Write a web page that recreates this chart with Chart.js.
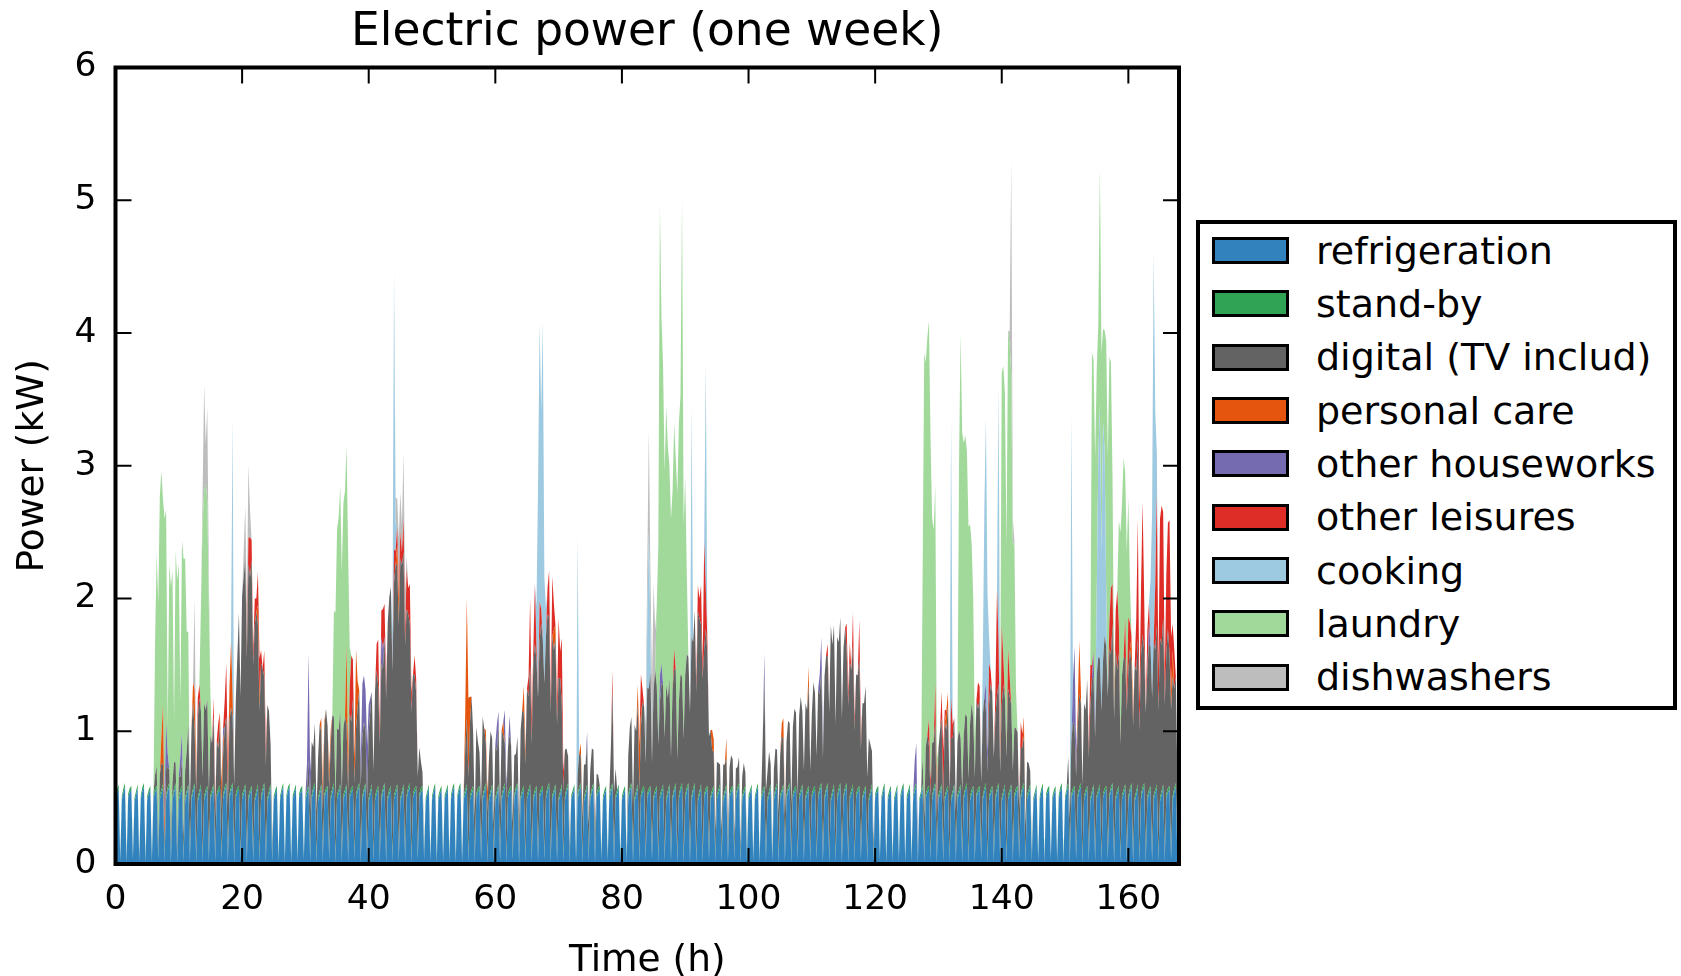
<!DOCTYPE html>
<html>
<head>
<meta charset="utf-8">
<title>Electric power (one week)</title>
<script src="https://cdn.jsdelivr.net/npm/chart.js@4.4.1/dist/chart.umd.min.js"></script>
<style>
  html, body { margin: 0; padding: 0; background: #fff; }
  #wrap { position: relative; width: 1681px; height: 976px; overflow: hidden; }
  #c { position: absolute; left: 0; top: 0; }
  #legend {
    position: absolute; left: 1196px; top: 220px;
    width: 473px; height: 482px;
    border: 4px solid #000; background: #fff;
  }
  #legend .item { height: 53.33px; display: flex; align-items: center; }
  #legend .sw { width: 71px; height: 21px; border: 3.5px solid #000; margin-left: 12px; margin-right: 27px; flex: none; }
  #legend .lab { font-family: 'DejaVu Sans', sans-serif; font-size: 38px; color: #000; white-space: nowrap; }
</style>
</head>
<body>
<div id="wrap">
  <canvas id="c" width="1681" height="976"></canvas>
  <div id="legend"></div>
</div>
<script>
// Sampling of the load curves (hours)
const STEP = 0.25;
const HOURS = 168;

const xTicks = [0, 20, 40, 60, 80, 100, 120, 140, 160];
const yTicks = [0, 1, 2, 3, 4, 5, 6];

const seriesNames = ['refrigeration', 'stand-by', 'digital (TV includ)', 'personal care',
  'other houseworks', 'other leisures', 'cooking', 'laundry', 'dishwashers'];

// Refrigeration: one value every 15 min, compressor cycle roughly hourly (kW)
const refrigeration = [
0.49,0.53,0.57,0.02,0.48,0.54,0.58,0.01,0.50,0.54,0.56,0.03,0.47,0.52,0.57,0.02,0.49,0.55,0.58,0.01,0.48,0.53,0.56,0.02,
0.50,0.54,0.56,0.03,0.49,0.53,0.57,0.02,0.49,0.55,0.58,0.01,0.48,0.54,0.58,0.01,0.48,0.53,0.56,0.02,0.47,0.52,0.57,0.02,
0.48,0.54,0.58,0.01,0.47,0.52,0.57,0.02,0.48,0.53,0.56,0.02,0.49,0.53,0.57,0.02,0.50,0.54,0.56,0.03,0.49,0.55,0.58,0.01,
0.49,0.55,0.58,0.01,0.50,0.54,0.56,0.03,0.49,0.53,0.57,0.02,0.48,0.53,0.56,0.02,0.47,0.52,0.57,0.02,0.48,0.54,0.58,0.01,
0.47,0.52,0.57,0.02,0.48,0.53,0.56,0.02,0.48,0.54,0.58,0.01,0.49,0.55,0.58,0.01,0.49,0.53,0.57,0.02,0.50,0.54,0.56,0.03,
0.48,0.53,0.56,0.02,0.49,0.55,0.58,0.01,0.47,0.52,0.57,0.02,0.50,0.54,0.56,0.03,0.48,0.54,0.58,0.01,0.49,0.53,0.57,0.02,
0.49,0.53,0.57,0.02,0.50,0.54,0.56,0.03,0.49,0.55,0.58,0.01,0.48,0.54,0.58,0.01,0.47,0.52,0.57,0.02,0.48,0.53,0.56,0.02,
0.48,0.54,0.58,0.01,0.48,0.53,0.56,0.02,0.49,0.53,0.57,0.02,0.47,0.52,0.57,0.02,0.49,0.55,0.58,0.01,0.50,0.54,0.56,0.03,
0.50,0.54,0.56,0.03,0.47,0.52,0.57,0.02,0.48,0.54,0.58,0.01,0.48,0.53,0.56,0.02,0.49,0.53,0.57,0.02,0.49,0.55,0.58,0.01,
0.49,0.55,0.58,0.01,0.49,0.53,0.57,0.02,0.48,0.53,0.56,0.02,0.50,0.54,0.56,0.03,0.48,0.54,0.58,0.01,0.47,0.52,0.57,0.02,
0.47,0.52,0.57,0.02,0.48,0.54,0.58,0.01,0.50,0.54,0.56,0.03,0.49,0.55,0.58,0.01,0.48,0.53,0.56,0.02,0.49,0.53,0.57,0.02,
0.48,0.53,0.56,0.02,0.50,0.54,0.56,0.03,0.49,0.55,0.58,0.01,0.49,0.53,0.57,0.02,0.47,0.52,0.57,0.02,0.48,0.54,0.58,0.01,
0.49,0.53,0.57,0.02,0.49,0.55,0.58,0.01,0.47,0.52,0.57,0.02,0.48,0.54,0.58,0.01,0.50,0.54,0.56,0.03,0.48,0.53,0.56,0.02,
0.48,0.54,0.58,0.01,0.49,0.53,0.57,0.02,0.48,0.53,0.56,0.02,0.49,0.55,0.58,0.01,0.47,0.52,0.57,0.02,0.50,0.54,0.56,0.03,
0.50,0.54,0.56,0.03,0.48,0.53,0.56,0.02,0.49,0.53,0.57,0.02,0.47,0.52,0.57,0.02,0.48,0.54,0.58,0.01,0.49,0.55,0.58,0.01,
0.49,0.55,0.58,0.01,0.48,0.54,0.58,0.01,0.47,0.52,0.57,0.02,0.50,0.54,0.56,0.03,0.48,0.53,0.56,0.02,0.49,0.53,0.57,0.02,
0.47,0.52,0.57,0.02,0.50,0.54,0.56,0.03,0.49,0.55,0.58,0.01,0.48,0.53,0.56,0.02,0.49,0.53,0.57,0.02,0.48,0.54,0.58,0.01,
0.48,0.53,0.56,0.02,0.47,0.52,0.57,0.02,0.48,0.54,0.58,0.01,0.49,0.53,0.57,0.02,0.49,0.55,0.58,0.01,0.50,0.54,0.56,0.03,
0.49,0.53,0.57,0.02,0.48,0.53,0.56,0.02,0.50,0.54,0.56,0.03,0.49,0.55,0.58,0.01,0.48,0.54,0.58,0.01,0.47,0.52,0.57,0.02,
0.48,0.54,0.58,0.01,0.49,0.55,0.58,0.01,0.49,0.53,0.57,0.02,0.50,0.54,0.56,0.03,0.48,0.53,0.56,0.02,0.47,0.52,0.57,0.02,
0.50,0.54,0.56,0.03,0.48,0.54,0.58,0.01,0.48,0.53,0.56,0.02,0.47,0.52,0.57,0.02,0.49,0.55,0.58,0.01,0.49,0.53,0.57,0.02,
0.49,0.55,0.58,0.01,0.47,0.52,0.57,0.02,0.50,0.54,0.56,0.03,0.48,0.54,0.58,0.01,0.49,0.53,0.57,0.02,0.48,0.53,0.56,0.02,
0.47,0.52,0.57,0.02,0.49,0.53,0.57,0.02,0.49,0.55,0.58,0.01,0.48,0.53,0.56,0.02,0.50,0.54,0.56,0.03,0.48,0.54,0.58,0.01,
0.48,0.53,0.56,0.02,0.48,0.54,0.58,0.01,0.47,0.52,0.57,0.02,0.49,0.53,0.57,0.02,0.50,0.54,0.56,0.03,0.49,0.55,0.58,0.01,
0.49,0.53,0.57,0.02,0.47,0.52,0.57,0.02,0.48,0.54,0.58,0.01,0.50,0.54,0.56,0.03,0.48,0.53,0.56,0.02,0.49,0.55,0.58,0.01,
0.48,0.54,0.58,0.01,0.50,0.54,0.56,0.03,0.49,0.55,0.58,0.01,0.48,0.53,0.56,0.02,0.47,0.52,0.57,0.02,0.49,0.53,0.57,0.02,
0.50,0.54,0.56,0.03,0.49,0.55,0.58,0.01,0.48,0.53,0.56,0.02,0.49,0.53,0.57,0.02,0.48,0.54,0.58,0.01,0.47,0.52,0.57,0.02,
0.49,0.55,0.58,0.01,0.48,0.53,0.56,0.02,0.49,0.53,0.57,0.02,0.47,0.52,0.57,0.02,0.50,0.54,0.56,0.03,0.48,0.54,0.58,0.01,
0.49
];

// Stand-by: [from hour, to hour, kW]
const standbyRuns = [[0, 168, 0.03]];

// Other uses: [start hour, consecutive 15-min values in kW]; zero outside the listed spans
const digitalSegs = [
  [6, [0,0.1,0.15,0.1, 0.15,0.2,0.15,0.1, 0.2,0.15,0.1,0.15, 0.1,0.2,0.15,0.1, 0.15,0.1,0.2,0.15, 0.2,0.3,0.45,0.4,
       0.5,0.65,0.4,0.5, 0.6,0.7,0.55,0.6, 0.7,0.6,0.65,0.5, 0.45,0.35,0.5,0.3, 0.4,0.3,0.45,0.35, 0.3,0.45,0.5,0.4,
       0.55,0.6,0.5,0.55, 0.7,1.0,1.3,1.2, 1.5,1.6,1.7,1.5, 1.75,1.6,1.7,1.45, 1.3,1.35,1.2,1.1, 1.0,0.9,0.8,0.7,
       0.7,0.6,0.3,0.1]],
  [30.5, [0.2,0.35, 0.4,0.3,0.45,0.35, 0.3,0.5,0.4,0.35, 0.5,0.6,0.45,0.5, 0.4,0.55,0.5,0.45, 0.5,0.45,0.55,0.5,
       0.5,0.55,0.45,0.5, 0.6,0.5,0.65,0.55, 0.5,0.6,0.7,0.55, 0.45,0.5,0.4,0.45, 0.5,0.6,0.7,0.65, 0.8,0.9,0.75,0.85,
       1.0,0.9,1.1,1.2, 1.3,1.45,1.5,1.4, 1.6,1.7,1.65,1.75, 1.8,1.7,1.75,1.6, 1.4,1.3,1.2,1.1, 0.9,0.85,0.7,0.6,
       0.35,0.2,0.1,0.05]],
  [55.25, [0.3,0.5,0.6, 0.55,0.7,0.4,0.3, 0.5,0.35,0.25,0.4, 0.6,0.45,0.3,0.35, 0.3,0.45,0.35,0.25, 0.4,0.3,0.45,0.35,
       0.5,0.4,0.3,0.45, 0.35,0.4,0.3,0.25, 0.3,0.25,0.35,0.2, 0.5,0.6,0.55,0.7, 0.8,0.7,0.9,0.85, 1.0,1.1,0.95,1.2,
       1.15,1.25,1.1,1.3, 1.2,1.3,1.25,1.1, 1.2,1.05,1.1,1.0, 0.9,0.85,0.6,0.5, 0.35,0.3,0.2,0.1]],
  [73, [0.15,0.25,0.2,0.3, 0.25,0.2,0.3,0.25, 0.2,0.3,0.25,0.2, 0.15,0.1]],
  [78.25, [0.3,0.7,0.5,0.2]],
  [81, [0.3,0.45,0.5,0.4, 0.55,0.45,0.6,0.5, 0.5,0.65,0.6,0.7, 0.8,0.75,0.85,0.7, 0.8,0.9,0.75,0.85, 0.7,0.8,0.75,0.9,
       0.85,0.7,0.8,0.75, 0.8,0.9,0.85,0.75, 0.7,0.85,0.8,0.9, 0.9,1.0,0.95,1.1, 1.2,1.1,1.3,1.25, 1.4,1.3,1.2,1.35,
       1.1,1.2,1.0,0.9, 0.5,0.3,0.25,0.2, 0.25,0.2,0.15,0.2, 0.25,0.2,0.2,0.15, 0.2,0.25,0.2,0.15, 0.2,0.15,0.2,0.1,
       0.15,0.2,0.1,0.05]],
  [102.25, [0.4,0.8,0.5,0.2,0.3,0.15]],
  [104, [0.2,0.3,0.25,0.35, 0.3,0.4,0.35,0.3, 0.4,0.5,0.45,0.4, 0.5,0.6,0.55,0.45, 0.6,0.7,0.55,0.65, 0.7,0.6,0.75,0.65,
       0.6,0.8,0.7,0.75, 0.8,0.7,0.85,0.75, 0.9,1.0,0.95,1.1, 1.3,1.1,1.2,1.0, 1.2,1.1,1.25,1.05, 1.1,1.2,1.0,1.15,
       1.0,0.9,1.05,0.95, 0.9,0.85,0.95,0.8, 0.7,0.65,0.75,0.6, 0.45,0.35,0.25,0.1]],
  [127.5, [0.2,0.3, 0.35,0.4,0.3,0.45, 0.4,0.35,0.45,0.3, 0.35,0.45,0.5,0.4, 0.55,0.45,0.6,0.5, 0.45,0.4,0.5,0.35,
       0.4,0.45,0.35,0.5, 0.45,0.55,0.5,0.6, 0.55,0.65,0.5,0.6, 0.7,0.6,0.65,0.55, 0.6,0.7,0.55,0.65, 0.7,0.8,0.7,0.75,
       0.6,0.7,0.75,0.65, 0.7,0.8,0.65,0.75, 0.8,0.7,0.6,0.65, 0.5,0.45,0.4,0.35, 0.35,0.3,0.35,0.25, 0.25,0.2,0.1,0.05]],
  [150.5, [0.2,0.3, 0.4,0.5,0.45,0.6, 0.5,0.7,0.6,0.55, 0.7,0.6,0.8,0.75, 0.7,0.85,0.8,0.9, 0.9,1.0,0.95,1.1,
       1.0,1.15,1.05,1.2, 1.1,1.0,1.2,1.05, 1.1,0.9,1.0,0.85, 0.9,1.0,0.95,1.1, 0.95,1.05,0.9,1.0, 1.0,0.9,1.1,0.95,
       1.05,1.15,1.0,1.1, 0.95,1.1,1.05,1.2, 1.15,1.05,1.2,1.1, 1.2,1.1,1.25,1.15, 1.05,1.2,1.0,1.1, 0.9,0.75,0.8,0.6,
       0.6]]
];

const personalCareSegs = [
  [7.25, [0.2,0.45,0.15]], [12.25, [0.15,0.3,0.1]], [16.5, [0.1,0.2,0.1]], [17.75, [0.1,0.25,0.5,0.15]],
  [22.5, [0.15,0.1]], [32.5, [0.1,0.2,0.05]], [33.75, [0.15,0.1]], [36.5, [0.6,0.2]], [37.75, [0.2,0.6,0.2]],
  [44.5, [0.15,0.2]], [55.25, [0.3,0.9,0.6,0.2]], [58.5, [0.1,0.15]], [61.25, [0.1]], [64.5, [0.2,0.1]],
  [69.25, [0.15,0.1]], [73.5, [0.1,0.05]], [82.5, [0.15,0.35,0.1]], [94.25, [0.15,0.1]], [96.5, [0.15]],
  [105.25, [0.1,0.15]], [109.5, [0.15]], [131.25, [0.15,0.1]], [143.5, [0.15]], [152, [0.15,0.4,0.1]],
  [160.5, [0.2,0.1]], [166.75, [0.15,0.2]]
];

const houseworkSegs = [
  [7.75, [0.2,0.35,0.1]], [10.25, [0.15,0.2]], [17, [0.1]], [30.25, [0.2,0.8,0.3]],
  [38.75, [0.2,0.4,0.35,0.3,0.4,0.2,0.1]], [42, [0.2,0.15]], [60.25, [0.2,0.1]], [61.5, [0.25,0.1]],
  [62.25, [0.15]], [74.5, [0.1]], [86, [0.2,0.15]], [102.5, [0.2]], [111.25, [0.15,0.25,0.1]],
  [126.25, [0.2,0.3,0.1]], [137.5, [0.2,0.15]], [151.25, [0.3,0.6,0.2]], [154.5, [0.2,0.1]], [163.25, [0.15]]
];

const leisureSegs = [
  [13, [0.15,0.1]], [15.5, [0.15,0.1]], [16.25, [0.2]], [17.25, [0.2,0.4,0.2]],
  [20.75, [0.1,0.2,0.3,0.15,0.1,0.2,0.1,0.25,0.3,0.1]], [23.5, [0.2,0.15]], [37, [0.2,0.5,0.3]],
  [41.25, [0.2,0.35,0.1,0.2,0.3,0.25,0.1]], [44, [0.25,0.1,0.15,0.05,0.2,0.1,0.25,0.1,0.3,0.2,0.3,0.15]],
  [47.25, [0.15,0.1]], [65.25, [0.15,0.5,0.2,0.1,0.45,0.1]], [67, [0.3,0.1]], [68.25, [0.2,0.35,0.1,0.45,0.2]],
  [69.75, [0.15,0.45,0.2]], [70.5, [0.5,0.15]], [78.5, [0.15]], [83, [0.3,0.1]], [88.25, [0.15]],
  [91.75, [0.1,0.2,0.15,0.3,0.1,0.8,0.3,0.1]], [112.5, [0.1]], [115.5, [0.2,0.1,0.15]], [116.5, [0.25,0.1]],
  [117.5, [0.3,0.1]], [128.5, [0.2,0.1]], [129.5, [0.3,0.15]], [130.5, [0.2,0.4,0.1]], [132, [0.3,0.1]],
  [136.25, [0.2,0.1]], [138, [0.3,0.1]], [139, [0.2,0.8,0.3]], [140, [0.6,0.2]], [141, [0.3,0.15]],
  [143, [0.2,0.1]], [153.75, [0.1,0.3,0.1]], [157, [0.2,0.5,0.3]], [158, [0.3,0.6,0.2]],
  [159.5, [0.3,0.1,0.4,0.2]], [161.25, [0.4,0.9,0.2,0.5,1.0,0.4]], [163, [0.3,0.15]],
  [164.25, [0.5,1.0,0.3,0.9,1.05,0.8,0.2,0.6,0.8,1.0,0.4,0.2]], [167.25, [0.3]]
];

const cookingSegs = [
  [18.5, [2.1]], [43.75, [0.3,2.1,0.2]], [66.5, [0.3,1.6,2.1,1.5,2.4,0.8,0.2]], [73, [1.8]],
  [84, [0.5,1.2,0.3]], [91, [1.75]], [93.25, [1.7]], [132, [2.1]], [137, [0.4,1.4,2.0,1.2,0.2]],
  [139.5, [1.95]], [151, [2.45]], [155, [0.6,1.5,1.9,1.2,1.8,1.4,0.4]], [163.5, [0.5,1.4,2.95,1.3,0.3]]
];

const laundrySegs = [
  [6.25, [1.0,1.6,1.8, 2.1,2.0,1.55,2.1, 1.6,0.2,1.55,1.9, 1.6,0.3,1.6,2.0, 1.6,0.4,1.45,2.1, 1.6,0.9,0.7]],
  [13.5, [0.8,1.9,1.6,1.7,1.5,1.4,0.3]],
  [34.5, [0.8,1.4,1.5,1.6, 1.7,1.65,1.7,1.7, 1.5,1.6,0.3]],
  [85.5, [0.6,1.5, 3.55,2.6,2.4,2.0, 2.1,1.9,1.6,1.8, 1.5,1.7,1.6,2.0, 2.1,2.1,3.6,1.6, 1.5,0.6]],
  [127.5, [1.4,3.5, 2.9,3.0,3.0,2.6, 1.7,1.6,1.5,0.3]],
  [133.25, [2.0,3.05,2.7, 2.2,2.1,2.0,1.9, 1.5,1.2,0.9,0.3]],
  [139.75, [0.5, 1.9,2.2,2.3,1.6, 2.4,2.5,2.5,1.7, 1.4,0.3]],
  [154.25, [2.35,2.2,2.0, 1.7,1.0,1.8,1.5, 0.7,0.9,1.9,1.8, 2.0,1.7,0.8,0.3]],
  [158.5, [0.8,1.6, 1.3,1.5,1.1,1.1, 0.9,0.3]]
];

const dishwasherSegs = [
  [12.5, [0.7]], [13.75, [0.2,0.8,0.3,0.7,0.2]], [20.25, [0.2,0.4,0.3,0.55,0.2]],
  [44.25, [0.2,0.2,0.4,0.3,0.2,0.5,0.3,0.1]], [83.75, [0.3,0.4,0.75,0.45,0.6,0.8,0.3]], [141.25, [0.1,1.6,0.2]]
];

// ---- build the sample table ----
const times = [];
for (let i = 0; i <= HOURS / STEP; i++) times.push(i * STEP);

function fromSegments(segs) {
  const out = times.map(() => 0);
  for (const [start, vals] of segs) {
    const i0 = Math.round(start / STEP);
    vals.forEach((v, j) => { if (i0 + j < out.length) out[i0 + j] = v; });
  }
  return out;
}
function fromRuns(runs) {
  const out = times.map(() => 0);
  for (const [a, b, v] of runs) {
    for (let i = Math.round(a / STEP); i <= Math.round(b / STEP) && i < out.length; i++) out[i] = v;
  }
  return out;
}

const seriesValues = [
  refrigeration,
  fromRuns(standbyRuns),
  fromSegments(digitalSegs),
  fromSegments(personalCareSegs),
  fromSegments(houseworkSegs),
  fromSegments(leisureSegs),
  fromSegments(cookingSegs),
  fromSegments(laundrySegs),
  fromSegments(dishwasherSegs)
];

const seriesColors = ['#3182bd', '#31a354', '#636363', '#e6550d', '#756bb1', '#de2d26', '#9ecae1', '#a1d99b', '#bdbdbd'];

const datasets = seriesValues.map((vals, k) => ({
  label: seriesNames[k],
  data: times.map((t, i) => ({ x: t, y: vals[i] ?? 0 })),
  backgroundColor: seriesColors[k],
  borderColor: 'rgba(0,0,0,0)',
  borderWidth: 0,
  pointRadius: 0,
  pointHoverRadius: 0,
  tension: 0,
  fill: k === 0 ? 'origin' : '-1'
}));

Chart.defaults.font.family = "'DejaVu Sans', sans-serif";
Chart.defaults.color = '#000';

const tickFont = { family: "'DejaVu Sans', sans-serif", size: 34.5 };
const labelFont = { family: "'DejaVu Sans', sans-serif", size: 37.5 };

// Black frame with inward tick marks on all four sides
const framePlugin = {
  id: 'frame',
  afterDatasetsDraw(chart) {
    const { ctx, chartArea: a, scales: { x, y } } = chart;
    const len = 16;
    ctx.save();
    ctx.strokeStyle = '#000';
    ctx.lineWidth = 2;
    ctx.beginPath();
    xTicks.forEach(v => {
      const px = x.getPixelForValue(v);
      ctx.moveTo(px, a.bottom); ctx.lineTo(px, a.bottom - len);
      ctx.moveTo(px, a.top); ctx.lineTo(px, a.top + len);
    });
    yTicks.forEach(v => {
      const py = y.getPixelForValue(v);
      ctx.moveTo(a.left, py); ctx.lineTo(a.left + len, py);
      ctx.moveTo(a.right, py); ctx.lineTo(a.right - len, py);
    });
    ctx.stroke();
    ctx.lineWidth = 4;
    ctx.strokeRect(a.left, a.top, a.right - a.left, a.bottom - a.top);
    ctx.restore();
  }
};

const chart = new Chart(document.getElementById('c'), {
  type: 'line',
  data: { datasets },
  options: {
    responsive: false,
    animation: false,
    devicePixelRatio: 1,
    events: [],
    layout: { padding: { left: 0, right: 502, top: 0, bottom: 0 } },
    plugins: {
      legend: { display: false },
      tooltip: { enabled: false },
      title: {
        display: true,
        fullSize: false,
        text: 'Electric power (one week)',
        color: '#000',
        font: { family: "'DejaVu Sans', sans-serif", size: 45.5, weight: 'normal' },
        padding: { top: 5.5, bottom: 7.4 }
      }
    },
    scales: {
      x: {
        type: 'linear',
        min: 0,
        max: 168,
        afterBuildTicks: s => { s.ticks = xTicks.map(v => ({ value: v })); },
        afterFit: s => { s.height = 112; },
        grid: { display: false, drawTicks: false },
        border: { display: false },
        ticks: { font: tickFont, color: '#000', padding: 15, maxRotation: 0, autoSkip: false },
        title: { display: true, text: 'Time (h)', font: labelFont, color: '#000', padding: { top: 0, bottom: -8 } }
      },
      y: {
        stacked: true,
        min: 0,
        max: 6,
        afterBuildTicks: s => { s.ticks = yTicks.map(v => ({ value: v })); },
        afterFit: s => { s.width = 115.5; },
        grid: { display: false, drawTicks: false },
        border: { display: false },
        ticks: { font: tickFont, color: '#000', padding: 19 },
        title: { display: true, text: 'Power (kW)', font: labelFont, color: '#000', padding: { top: 10.5, bottom: 0 } }
      }
    }
  },
  plugins: [framePlugin]
});

// Legend box built from the chart's datasets
const legendEl = document.getElementById('legend');
chart.data.datasets.forEach(ds => {
  const item = document.createElement('div');
  item.className = 'item';
  const sw = document.createElement('span');
  sw.className = 'sw';
  sw.style.background = ds.backgroundColor;
  const lab = document.createElement('span');
  lab.className = 'lab';
  lab.textContent = ds.label;
  item.appendChild(sw);
  item.appendChild(lab);
  legendEl.appendChild(item);
});
</script>
</body>
</html>
